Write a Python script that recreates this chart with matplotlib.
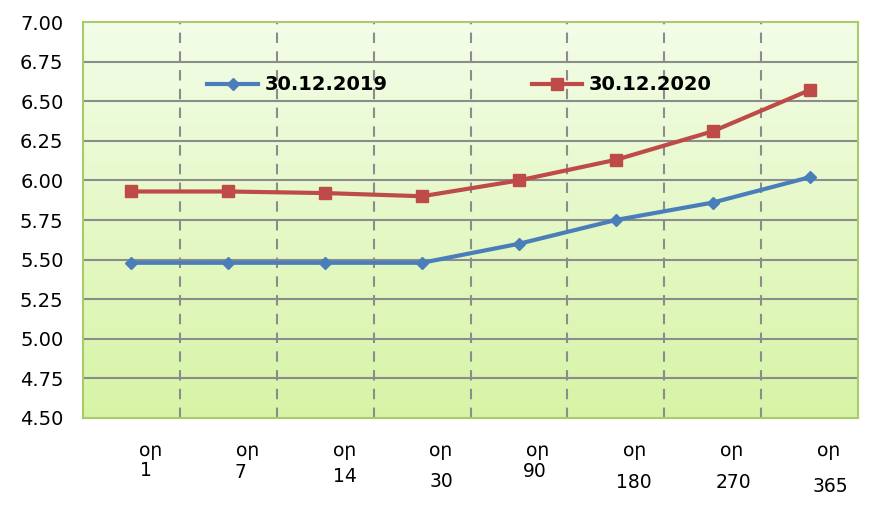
import matplotlib.pyplot as plt
import numpy as np
from matplotlib.colors import LinearSegmentedColormap

days = ['1', '7', '14', '30', '90', '180', '270', '365']
rates_2019 = [5.48, 5.48, 5.48, 5.48, 5.60, 5.75, 5.86, 6.02]
rates_2020 = [5.93, 5.93, 5.92, 5.90, 6.00, 6.13, 6.31, 6.57]
yticks = [4.50, 4.75, 5.00, 5.25, 5.50, 5.75, 6.00, 6.25, 6.50, 6.75, 7.00]

fig = plt.figure(figsize=(8.75, 5.05), dpi=100)
ax = fig.add_axes([0.0949, 0.1723, 0.8857, 0.7841])

# gradient background
cmap = LinearSegmentedColormap.from_list('bg', ['#d7f4a6', '#f3fde8'])
grad = np.linspace(0, 1, 256).reshape(-1, 1)
ax.imshow(grad, cmap=cmap, aspect='auto', extent=[0, 1, 0, 1],
          transform=ax.transAxes, origin='lower', zorder=0)

x = np.arange(len(days))
ax.plot(x, rates_2019, color='#4a7ebb', lw=3, marker='D', ms=6,
        label='30.12.2019', zorder=4)
ax.plot(x, rates_2020, color='#be4b48', lw=3, marker='s', ms=9,
        label='30.12.2020', zorder=4)

ax.set_xlim(-0.5, len(days) - 0.5)
ax.set_ylim(4.5, 7.0)
ax.set_yticks(yticks)
ax.set_yticklabels([f'{v:.2f}' for v in yticks], fontsize=14)
ax.set_xticks([])
ax.tick_params(axis='both', which='both', length=0)
ax.tick_params(axis='y', pad=14)

for v in yticks[1:-1]:
    ax.axhline(v, color='#8c8c8c', lw=1.5, zorder=1)
for b in np.arange(0.5, len(days) - 0.5):
    ax.axvline(b, color='#8c8c8c', lw=1.5, ls=(0, (5, 4)), zorder=1)

for s in ax.spines.values():
    s.set_color('#a9cc6b')
    s.set_linewidth(1.5)

# x labels: "օր" with the day count underneath, as in the original
num_dx = [14, 12, 20, 19, 16, 18, 21, 21]
num_dy = [53, 55, 59, 64, 54, 65, 65, 69]
for i, d in enumerate(days):
    ax.annotate('օր', xy=(i, 0), xycoords=('data', 'axes fraction'),
                xytext=(19, -33), textcoords='offset pixels',
                ha='center', va='center', fontsize=13.5)
    ax.annotate(d, xy=(i, 0), xycoords=('data', 'axes fraction'),
                xytext=(num_dx[i], -num_dy[i]), textcoords='offset pixels',
                ha='center', va='center', fontsize=13.5)

ax.legend(loc='center', bbox_to_anchor=(0.486, 0.841), ncol=2, frameon=False,
          prop={'weight': 'bold', 'size': 14}, handlelength=2.6,
          handletextpad=0.35, columnspacing=7.4)

fig.savefig('out.png', dpi=100)
